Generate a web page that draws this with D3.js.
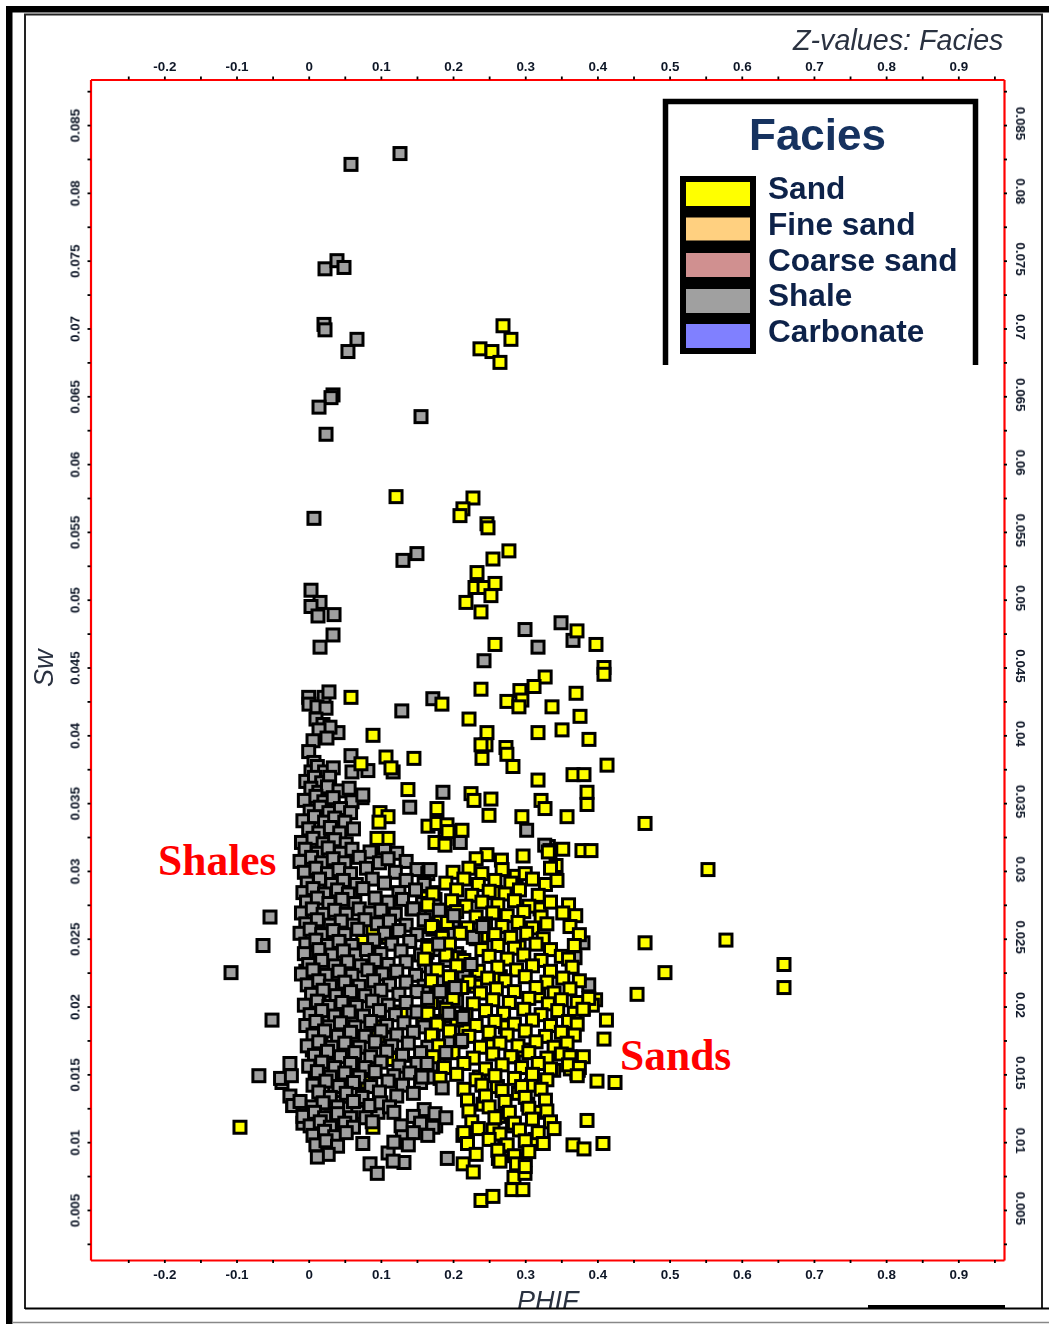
<!DOCTYPE html>
<html><head><meta charset="utf-8">
<script src="https://cdn.jsdelivr.net/npm/d3@7"></script>
<style>html,body{margin:0;background:#fff}svg{display:block}text{font-family:"Liberation Sans",Arial,sans-serif}</style>
</head><body><div id="c"></div>
<script>
const xTicks=[-0.25,-0.2,-0.15,-0.1,-0.05,0,0.05,0.1,0.15,0.2,0.25,0.3,0.35,0.4,0.45,0.5,0.55,0.6,0.65,0.7,0.75,0.8,0.85,0.9,0.95];
const yTicks=[0.0025,0.005,0.0075,0.01,0.0125,0.015,0.0175,0.02,0.0225,0.025,0.0275,0.03,0.0325,0.035,0.0375,0.04,0.0425,0.045,0.0475,0.05,0.0525,0.055,0.0575,0.06,0.0625,0.065,0.0675,0.07,0.0725,0.075,0.0775,0.08,0.0825,0.085,0.0875];
const xLabels=[-0.2,-0.1,0,0.1,0.2,0.3,0.4,0.5,0.6,0.7,0.8,0.9];
const yLabels=[0.005,0.01,0.015,0.02,0.025,0.03,0.035,0.04,0.045,0.05,0.055,0.06,0.065,0.07,0.075,0.08,0.085];
const legendNames=["Sand","Fine sand","Coarse sand","Shale","Carbonate"];
const legendColors=["#ffff00","#ffd080","#d09090","#a0a0a0","#8080ff"];

// yellow points that lie beneath the shale cloud
const sandUnder=[[.089,.0256],[.075,.0248],[.081,.0242],[.061,.0155],[.089,.0111],[.081,.0144],[.154,.0114],[.103,.0185],[.117,.0161],[.096,.0178],[.158,.0190],[.165,.0166],[.172,.0183],[.179,.0150],[.164,.0240],[.161,.0231],[.172,.0284],[.158,.0280],[.178,.0217],[.128,.0196],[.143,.0272],[.110,.0251]];

const shale=[[.0586,.0821],[.1265,.0829],[.0226,.0744],[.0392,.0750],[.0489,.0745],[.0212,.0703],[.0226,.0699],[.0669,.0692],[.0544,.0683],[.0337,.0651],[.0309,.0649],[.0143,.0642],[.1556,.0635],[.0240,.0622],[.0073,.0560],[.1306,.0529],[.1500,.0534],[.0032,.0507],[.0157,.0498],[.0032,.0495],[.0129,.0488],[.0351,.0489],[.0337,.0474],[.0157,.0465],[.2997,.0478],[.3177,.0465],[.3496,.0483],[.3662,.0470],[.2429,.0455],
[.129,.0418],[.172,.0427],[.186,.0358],[.140,.0347],[.074,.0354],[.082,.0374],[.117,.0373],[.060,.0373],[.0586,.0385],[.332,.0318],[.380,.0247],[.388,.0216],[.369,.0236],[.302,.0330],[.327,.0319],[.210,.0321],[.189,.0324],
[-.1076,.0225],[-.0633,.0245],[-.0536,.0266],[-.0508,.0190],[-.026,.0158],[-.069,.0149],[-.037,.0144],[-.039,.0147],[-.022,.0127],[-.008,.0114],
[.013,.0093],[.075,.0099],[.110,.0092],[.085,.0084],[.095,.0077],[.132,.0085],[.117,.0086],[.160,.0124],[.096,.0122],[.192,.0088],[.174,.0115],[.176,.0112],
[.031,.0206],[.016,.0213],[.006,.0231],[-.004,.0226],[.012,.0246],[.024,.0239],[.037,.0221],[.028,.0193],[.009,.0201],[.043,.0181],[.017,.0176],[.034,.0166],[.005,.0168],[.046,.0147],[.024,.0153],[.009,.0146],[.036,.0138],[.018,.0131],[.056,.0125],[.031,.0118],[.044,.0109],[.068,.0122],[.079,.0118],[.023,.0298],[.013,.0286],[.035,.0279],[.019,.0322],[.011,.0336],[.029,.0345],[.014,.0262],[.053,.0228],[.049,.0196],[.063,.0175],
[0,.0428],[.0213,.0428],[.0281,.0432],[.0004,.0423],[.0115,.0421],[.024,.042],[.0101,.0412],[.0198,.0408],[.0406,.0402],[.0295,.0406],[.0143,.0404],[.006,.0396],[.0253,.0398],[0,.0388],[.0073,.038],[.0032,.0373],
[.012,.0377],[.022,.0373],[.034,.0376],[-.004,.0366],[.008,.0369],[.018,.0365],[.029,.0369],[.003,.0361],[.014,.0358],[.026,.0362],[.042,.0359],[.056,.0361],
[-.006,.0352],[.010,.0355],[.021,.0351],[.034,.0354],[.060,.0351],[.075,.0356],[.002,.0344],[.016,.0347],[.028,.0343],[.044,.0346],[.058,.0343],
[-.008,.0337],[.008,.034],[.022,.0336],[.036,.0339],[.050,.0336],[0,.0331],[.014,.0328],[.030,.0332],[.043,.0328],[.062,.0331],
[-.010,.0321],[.006,.0324],[.020,.032],[.036,.0323],[.052,.032],[-.005,.0316],[.012,.0313],[.027,.0317],[.044,.0313],[.060,.0316],[.085,.0314],[.105,.0317],[.122,.0313],
[-.012,.0307],[.004,.031],[.018,.0306],[.034,.0309],[.050,.0306],[.070,.031],[.098,.0306],[.110,.0309],[.135,.0307],
[-.006,.0299],[.010,.0302],[.026,.0298],[.042,.0301],[.058,.0298],[.080,.0302],[.120,.0299],[.150,.0301],[.165,.0298],
[-.002,.0291],[.015,.0294],[.032,.029],[.048,.0293],[.066,.029],[.088,.0294],[.105,.0291],[.135,.0293],[.160,.029],
[-.008,.0284],[.006,.0287],[.022,.0283],[.040,.0286],[.055,.0283],[.075,.0287],[.125,.0284],[.148,.0286],
[-.003,.0277],[.012,.028],[.028,.0276],[.046,.0279],[.064,.0276],[.092,.028],[.110,.0277],[.130,.0279],[.158,.0276],[.175,.0279],
[-.010,.0269],[.005,.0272],[.020,.0268],[.036,.0271],[.052,.0268],[.070,.0272],[.085,.0269],[.100,.0271],[.120,.0268],[.145,.0272],[.170,.0269],[.190,.0271],
[-.004,.0261],[.012,.0264],[.030,.026],[.045,.0263],[.062,.026],[.078,.0264],[.095,.0261],[.112,.0263],[.135,.026],[.160,.0264],[.180,.0261],[.200,.0263],
[-.012,.0254],[.002,.0257],[.018,.0253],[.034,.0256],[.050,.0253],[.068,.0257],[.105,.0254],[.125,.0256],[.150,.0253],[.172,.0257],[.195,.0254],
[-.004,.0246],[.010,.0249],[.026,.0245],[.042,.0248],[.060,.0245],[.090,.0249],[.115,.0246],[.140,.0248],[.165,.0245],[.185,.0249],
[-.006,.0239],[.014,.0242],[.032,.0238],[.048,.0241],[.065,.0238],[.080,.0242],[.100,.0239],[.128,.0241],[.155,.0238],[.178,.0242],[.205,.0239],
[0,.0231],[.018,.0234],[.036,.023],[.054,.0233],[.072,.023],[.092,.0234],[.110,.0231],[.135,.0233],[.162,.023],[.190,.0234],
[-.010,.0224],[.006,.0227],[.024,.0223],[.042,.0226],[.060,.0223],[.082,.0227],[.102,.0224],[.122,.0226],[.148,.0223],[.170,.0227],[.215,.0224],
[-.002,.0216],[.014,.0219],[.030,.0215],[.050,.0218],[.070,.0215],[.090,.0219],[.112,.0216],[.135,.0218],[.160,.0215],[.185,.0219],
[.004,.0209],[.020,.0212],[.038,.0208],[.058,.0211],[.078,.0208],[.100,.0212],[.125,.0209],[.150,.0211],[.178,.0208],[.200,.0212],
[-.006,.0201],[.012,.0204],[.028,.02],[.046,.0203],[.066,.02],[.088,.0204],[.110,.0201],[.135,.0203],[.165,.02],[.205,.0204],
[.002,.0194],[.018,.0197],[.036,.0193],[.056,.0196],[.076,.0193],[.098,.0197],[.120,.0194],[.150,.0196],[.190,.0193],
[-.004,.0186],[.010,.0189],[.028,.0185],[.044,.0188],[.064,.0185],[.086,.0189],[.108,.0186],[.132,.0188],[.160,.0185],[.180,.0189],
[.006,.0179],[.022,.0182],[.040,.0178],[.058,.0181],[.078,.0178],[.100,.0182],[.122,.0179],[.145,.0181],[.172,.0178],
[-.002,.0171],[.014,.0174],[.032,.017],[.050,.0173],[.070,.017],[.092,.0174],[.115,.0171],[.138,.0173],[.165,.017],[.195,.0174],
[.008,.0164],[.026,.0167],[.044,.0163],[.064,.0166],[.086,.0163],[.108,.0167],[.130,.0164],[.155,.0166],[.180,.0163],
[0,.0156],[.018,.0159],[.036,.0155],[.058,.0158],[.078,.0155],[.100,.0159],[.125,.0156],[.150,.0158],[.170,.0155],
[-.024,.0149],[.012,.0152],[.030,.0148],[.050,.0151],[.070,.0148],[.092,.0152],[.118,.0149],[.140,.0151],[.172,.0148],
[.006,.0142],[.024,.0145],[.042,.0141],[.062,.0144],[.086,.0141],[.110,.0145],[.130,.0142],[.155,.0144],
[-.026,.0134],[.014,.0137],[.030,.0133],[.052,.0136],[.074,.0133],[.098,.0137],[.122,.0134],[.145,.0136],
[-.022,.0127],[-.012,.013],[.005,.0126],[.020,.0129],[.040,.0126],[.062,.013],[.085,.0127],[.100,.0129],[.112,.0126],
[-.008,.0119],[.008,.0122],[.022,.0118],[.040,.0121],[.058,.0118],[.118,.0122],[.145,.0119],[.175,.0121],[.190,.0118],
[.002,.0112],[.016,.0115],[.030,.0111],[.050,.0114],[.062,.0111],[.088,.0115],[.128,.0112],[.155,.0114],[.172,.0111],
[.006,.0105],[.022,.0108],[.036,.0104],[.052,.0107],[.130,.0104],[.145,.0107],[.165,.0105],
[.010,.0098],[.024,.0101],[.040,.0097],[.118,.01],[.138,.0098],[.027,.0091],[.012,.0089]];

const sand=[[.2692,.0702],[.2802,.0692],[.2373,.0685],[.2539,.0683],[.265,.0675],[.121,.0576],[.2276,.0575],[.2137,.0567],[.2096,.0562],[.247,.0556],[.2484,.0553],[.2774,.0536],[.2553,.053],[.2332,.052],[.2304,.0509],[.2429,.0509],[.2581,.0512],[.2179,.0498],[.2525,.0503],[.2387,.0491],[.3717,.0477],[.398,.0467],[.2581,.0467],[.4091,.045],[.4091,.0445],[.3276,.0443],[.3122,.0436],[.2926,.0433],[.2954,.0426],[.2746,.0425],[.2913,.0421],[.2387,.0434],[.0586,.0428],[.1846,.0423],[.3704,.0431],[.2221,.0412],[.3371,.0421],[.3759,.0414],[.351,.0404],[.3177,.0402],[.247,.0402],[.2456,.0393],[.3883,.0397],[.0891,.04],[.2733,.0391],[.2387,.0393],[.2746,.0386],[.2401,.0383],[.283,.0377],[.4133,.0378],[.3177,.0367],[.3662,.0371],[.3814,.0371],[.3856,.0358],[.3856,.0349],
[.1071,.0384],[.1458,.0383],[.0724,.0379],[.114,.0376],[.1375,.036],[.1777,.0346],[.0988,.0343],[.1099,.034],[.0974,.0336],[.2249,.0357],[.229,.0352],[.2525,.0353],[.3219,.0352],[.3274,.0346],[.3579,.034],[.2954,.034],[.2498,.0341],[.466,.0335],[.5532,.0301],[.5781,.0249],[.466,.0247],[.4936,.0225],[.4549,.0209],[.6585,.0231],[.6585,.0214],[.3786,.0315],[.3911,.0315],[.3343,.0315],[.3427,.0304],[.1653,.0333],[.1777,.0335],[.1916,.0334],[.193,.0329],[.2124,.033],[.175,.0321],[.1888,.0319],[.1099,.0324],[.0946,.0324],[-.0952,.0111],
[.4091,.0176],[.3856,.0116],[.3662,.0098],[.3814,.0095],[.4077,.0099],[.3994,.0145],[.4244,.0144],[.2387,.0057],[.2553,.006],[.2816,.0065],[.2968,.0065],[.2844,.0074],[.2996,.0077],[.2996,.0087],[.2137,.0105],[.214,.0084],[.228,.0078],[.2628,.0088],[.3975,.0205],[.4125,.019],[.393,.0201],[.3805,.0198],[.3805,.0163],[.3715,.0151],[.3395,.0153],[.3625,.0154],[.3735,.0153],
[.247,.0312],[.232,.0309],[.297,.0311],[.267,.0308],[.332,.0314],[.352,.0316],
[.2415,.0128],[.2635,.0119],[.2905,.0136],[.2715,.0097],[.2825,.0112],[.3035,.0128],[.3135,.0102],[.2555,.0109],[.2365,.0148],[.2615,.0141],[.2835,.0163],[.3085,.0142],[.3205,.0122],[.2495,.0171],[.2725,.0185],[.2985,.0168],[.2165,.0182],[.2315,.0215],[.2655,.0222],[.3185,.0208],[.2085,.0236],[.2395,.0252],[.2915,.0244],[.3205,.0272],[.2595,.0284],[.2875,.0296],
[.200,.0299],[.222,.0302],[.240,.0298],[.268,.0301],[.300,.0298],[.335,.0302],
[.190,.0291],[.215,.0294],[.235,.029],[.258,.0293],[.280,.0291],[.310,.0294],[.328,.029],[.344,.0293],
[.172,.0283],[.205,.0286],[.226,.0282],[.250,.0285],[.272,.0283],[.292,.0286],[.318,.0282],
[.165,.0275],[.198,.0278],[.218,.0274],[.240,.0277],[.262,.0275],[.285,.0278],[.305,.0274],[.335,.0277],[.360,.0275],
[.182,.0267],[.205,.027],[.232,.0266],[.255,.0269],[.275,.0267],[.298,.027],[.322,.0266],[.352,.0269],[.370,.0267],
[.170,.0259],[.192,.0262],[.220,.0258],[.245,.0261],[.268,.0259],[.290,.0262],[.310,.0258],[.330,.0261],[.362,.0259],
[.185,.0251],[.210,.0254],[.232,.025],[.258,.0253],[.280,.0251],[.302,.0254],[.325,.025],[.375,.0253],
[.165,.0243],[.195,.0246],[.240,.0242],[.262,.0245],[.285,.0243],[.315,.0246],[.335,.0242],[.368,.0245],
[.160,.0235],[.190,.0238],[.215,.0234],[.250,.0237],[.275,.0235],[.298,.0238],[.322,.0234],[.350,.0237],[.360,.0235],
[.178,.0227],[.205,.023],[.235,.0226],[.262,.0229],[.288,.0227],[.310,.023],[.335,.0226],[.365,.0229],
[.170,.0219],[.195,.0222],[.222,.0218],[.248,.0221],[.272,.0219],[.300,.0222],[.330,.0218],[.352,.0221],[.375,.0219],
[.185,.0211],[.212,.0214],[.238,.021],[.260,.0213],[.285,.0211],[.315,.0214],[.340,.021],[.362,.0213],
[.170,.0203],[.200,.0206],[.228,.0202],[.255,.0205],[.278,.0203],[.305,.0206],[.332,.0202],[.350,.0205],[.372,.0203],[.388,.0206],
[.165,.0195],[.190,.0198],[.218,.0194],[.245,.0197],[.270,.0195],[.298,.0198],[.322,.0194],[.345,.0197],[.368,.0195],[.380,.0198],
[.178,.0187],[.205,.019],[.232,.0186],[.258,.0189],[.285,.0187],[.310,.019],[.335,.0186],[.360,.0189],[.372,.0187],
[.170,.0179],[.195,.0182],[.222,.0178],[.250,.0181],[.275,.0179],[.300,.0182],[.328,.0178],[.350,.0181],[.368,.0179],
[.180,.0171],[.210,.0174],[.238,.017],[.265,.0173],[.290,.0171],[.315,.0174],[.340,.017],[.358,.0173],
[.172,.0163],[.200,.0166],[.228,.0162],[.255,.0165],[.280,.0163],[.305,.0166],[.330,.0162],[.350,.0165],[.362,.0163],
[.188,.0155],[.215,.0158],[.245,.0154],[.268,.0157],[.295,.0155],[.318,.0158],[.335,.0154],[.360,.0157],[.375,.0155],
[.182,.0147],[.205,.015],[.232,.0146],[.258,.0149],[.285,.0147],[.310,.015],[.330,.0146],[.372,.0149],
[.215,.0139],[.240,.0142],[.268,.0138],[.295,.0141],[.322,.0139],
[.220,.0131],[.245,.0134],[.272,.013],[.300,.0133],[.328,.0131],
[.222,.0123],[.250,.0126],[.278,.0122],[.305,.0125],[.330,.0123],
[.226,.0115],[.258,.0118],[.285,.0114],[.310,.0117],[.335,.0115],
[.215,.0107],[.235,.011],[.265,.0106],[.292,.0109],[.318,.0107],[.340,.011],
[.220,.0099],[.250,.0102],[.275,.0098],[.300,.0101],[.325,.0099],
[.232,.0091],[.262,.0094],[.285,.009],[.305,.0093],[.265,.0086],[.288,.0084],[.300,.0082]];

// shale points showing on top of the sand cloud
const shaleOver=[[.228,.0251],[.225,.0231],[.201,.0267],[.181,.0271],[.203,.0214],[.165,.0206],[.194,.0195],[.214,.0192],[.182,.0211],[.241,.0259],[.164,.0158],[.185,.014],[.212,.0175],[.157,.0148],[.19,.0166],[.168,.0301],[.18,.0246]];

const W=1049,H=1324;
const svg=d3.select("#c").append("svg").attr("width",W).attr("height",H);
const defs=svg.append("defs");
defs.append("filter").attr("id","soft").append("feGaussianBlur").attr("stdDeviation",0.6);
defs.append("filter").attr("id","softer").append("feGaussianBlur").attr("stdDeviation",0.45);
defs.append("clipPath").attr("id","pageclip").append("rect").attr("x",0).attr("y",0).attr("width",W).attr("height",1308);

const x=d3.scaleLinear().domain([-0.3023,0.9633]).range([90.5,1004]);
const y=d3.scaleLinear().domain([0.00131,0.08836]).range([1260,79.5]);
const isMajor=(list,v)=>list.some(d=>Math.abs(d-v)<1e-9);
const xFmt=v=>isMajor(xLabels,v)?String(+v.toFixed(1)):"";
const yFmt=v=>isMajor(yLabels,v)?String(+v.toFixed(3)):"";

function style(g){
  g.selectAll(".domain").attr("stroke","#ff0000").attr("stroke-width",2.2);
  g.selectAll(".tick line").attr("stroke","#000").attr("stroke-width",1.8);
  g.selectAll("text").attr("font-size",13.4).attr("font-weight","bold").attr("fill","#101828").attr("filter","url(#soft)").style("font-family","'Liberation Sans'");
}
const ax=svg.append("g");
const top_=ax.append("g").attr("transform",`translate(0,${y.range()[1]})`).call(d3.axisTop(x).tickValues(xTicks).tickFormat(xFmt).tickSize(3).tickSizeOuter(0).tickPadding(6));
const bot=ax.append("g").attr("transform",`translate(0,${y.range()[0]})`).call(d3.axisBottom(x).tickValues(xTicks).tickFormat(xFmt).tickSize(3).tickSizeOuter(0).tickPadding(6));
const lef=ax.append("g").attr("transform",`translate(${x.range()[0]},0)`).call(d3.axisLeft(y).tickValues(yTicks).tickFormat(yFmt).tickSize(3).tickSizeOuter(0));
const rig=ax.append("g").attr("transform",`translate(${x.range()[1]},0)`).call(d3.axisRight(y).tickValues(yTicks).tickFormat(yFmt).tickSize(3).tickSizeOuter(0));
[top_,bot,lef,rig].forEach(style);
lef.selectAll("text").attr("x",null).attr("dy",null).attr("text-anchor","middle").attr("dominant-baseline","central").attr("transform","translate(-16,0) rotate(-90)");
rig.selectAll("text").attr("x",null).attr("dy",null).attr("text-anchor","middle").attr("dominant-baseline","central").attr("transform","translate(17,-2) rotate(90)");

const marks=svg.append("g").attr("filter","url(#softer)");
function plot(data,fill,cls){
  marks.append("g").attr("class",cls).selectAll("rect").data(data).join("rect")
    .attr("x",d=>x(d[0])-6).attr("y",d=>y(d[1])-6).attr("width",12).attr("height",12)
    .attr("fill",fill).attr("stroke","#000").attr("stroke-width",3);
}
plot(sandUnder,legendColors[0],"sand-under");
plot(shale,legendColors[3],"shale");
plot(sand,legendColors[0],"sand");
plot(shaleOver,legendColors[3],"shale-over");

// legend box, open at its lower edge
const lg=svg.append("g");
lg.append("path").attr("d","M665.5,365V101.5H975.5V365").attr("fill","none").attr("stroke","#000").attr("stroke-width",5.5);
lg.append("text").attr("x",749).attr("y",150).attr("font-size",44).attr("font-weight","bold").attr("fill","#12305e").attr("filter","url(#softer)").text("Facies");
const rowY=[194,229.5,265,301,336],rowB=[199,235,271,306,342];
lg.append("rect").attr("x",680).attr("y",176).attr("width",76).attr("height",178).attr("fill","#000");
legendNames.forEach((n,i)=>{
  const h=i==1?23:24;
  lg.append("rect").attr("x",686).attr("y",rowY[i]-12).attr("width",64).attr("height",h).attr("fill",legendColors[i]);
  lg.append("text").attr("x",768).attr("y",rowB[i]).attr("font-size",31.6).attr("font-weight","bold").attr("fill","#10244a").attr("filter","url(#softer)").text(n);
});

// titles and annotations
const clipG=svg.append("g").attr("clip-path","url(#pageclip)");
clipG.append("text").attr("x",517).attr("y",1310).attr("font-size",27).attr("font-style","italic").attr("fill","#2a3040").attr("filter","url(#softer)").text("PHIF");
svg.append("text").attr("x",793).attr("y",50).attr("font-size",28.7).attr("font-style","italic").attr("fill","#2a3040").attr("filter","url(#softer)").text("Z-values: Facies");
svg.append("text").attr("transform","translate(53,687) rotate(-90)").attr("font-size",27).attr("font-style","italic").attr("fill","#2a3040").attr("filter","url(#softer)").text("Sw");
svg.append("text").attr("x",158).attr("y",875).attr("font-size",43.5).attr("font-weight","bold").attr("fill","#ff0000").style("font-family","'Liberation Serif'").text("Shales");
svg.append("text").attr("x",620).attr("y",1070).attr("font-size",43.5).attr("font-weight","bold").attr("fill","#ff0000").style("font-family","'Liberation Serif'").text("Sands");

// page frames
const fr=svg.append("g");
fr.append("rect").attr("x",6).attr("y",6).attr("width",W-6).attr("height",6.5).attr("fill","#000");
fr.append("rect").attr("x",6).attr("y",6).attr("width",6.5).attr("height",H-6).attr("fill","#000");
fr.append("path").attr("d","M25,1309V14.5H1042V1309").attr("fill","none").attr("stroke","#222").attr("stroke-width",2);
fr.append("line").attr("x1",25).attr("x2",W).attr("y1",1308.5).attr("y2",1308.5).attr("stroke","#000").attr("stroke-width",2);
fr.append("rect").attr("x",868).attr("y",1305).attr("width",137).attr("height",4).attr("fill","#000");
fr.append("line").attr("x1",12).attr("x2",W).attr("y1",1322.5).attr("y2",1322.5).attr("stroke","#888").attr("stroke-width",1.5);
</script></body></html>
